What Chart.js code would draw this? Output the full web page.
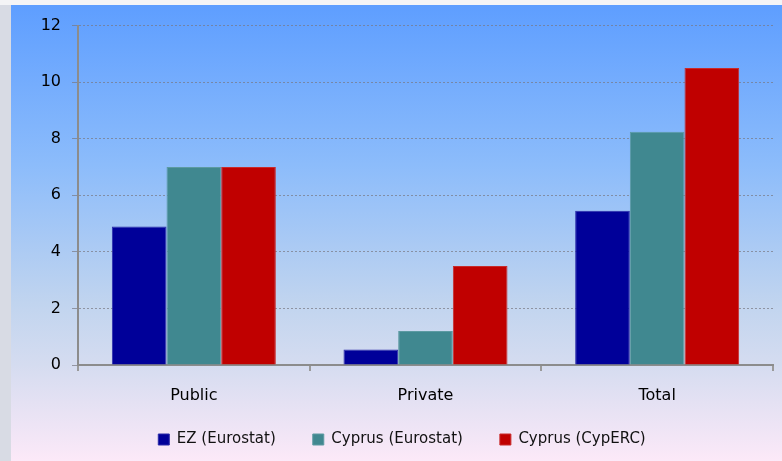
<!DOCTYPE html>
<html>
<head>
<meta charset="utf-8">
<script src="https://cdn.jsdelivr.net/npm/chart.js@4"></script>
<style>
  html, body { margin: 0; padding: 0; }
  body { width: 782px; height: 461px; background: #d8dbe4; position: relative; overflow: hidden; }
  #topstrip { position: absolute; left: 0; top: 0; width: 782px; height: 5px; background: #f4f4f6; }
  #panel {
    position: absolute; left: 11px; top: 5px; width: 771px; height: 456px;
    background: linear-gradient(to bottom, #5e9eff 0%, #8cbcfb 35%, #c0d4ef 65%, #d5dcf0 79%, #fce9f8 100%);
  }
  canvas { display: block; }
</style>
</head>
<body>
<div id="topstrip"></div>
<div id="panel"><canvas id="spend_chart" width="771" height="456"></canvas></div>
<script>
// categories and series
const categories = ["Public", "Private", "Total"];
const ez_eurostat = [4.9, 0.55, 5.45];
const cyprus_eurostat = [7.0, 1.2, 8.25];
const cyprus_cyperc = [7.0, 3.5, 10.5];
const y_ticks = [0, 2, 4, 6, 8, 10, 12];

const font_family = "'DejaVu Sans', Verdana, sans-serif";

// common to all three series
const base_bar = {
  borderWidth: 1,
  barPercentage: 1.0,
  categoryPercentage: 0.708
};

var data = {
  labels: categories,
  datasets: [{
    ...base_bar,
    label: "EZ (Eurostat)",
    backgroundColor: "#000099",
    borderColor: "#2a2aa8",
    data: ez_eurostat
  },
  {
    ...base_bar,
    label: "Cyprus (Eurostat)",
    backgroundColor: "#408890",
    borderColor: "#5c9aa2",
    data: cyprus_eurostat
  },
  {
    ...base_bar,
    label: "Cyprus (CypERC)",
    backgroundColor: "#c00000",
    borderColor: "#c82a2a",
    data: cyprus_cyperc
  }]
};

var options = {
  responsive: false,
  animation: false,
  // left padding only pushes the legend centre over, y axis width makes up for it
  layout: { padding: { top: 12, right: 9, left: 20, bottom: 4 } },
  plugins: {
    tooltip: { enabled: false },
    legend: {
      position: "bottom",
      labels: {
        boxWidth: 11,
        boxHeight: 11,
        padding: 37,
        color: "#111",
        font: { size: 15, family: font_family }
      }
    }
  },
  scales: {
    y: {
      min: 0,
      max: 12,
      afterBuildTicks: function(scale) {
        scale.ticks = y_ticks.map(v => ({ value: v }));
      },
      afterFit: function(scale) { scale.width = 47; },
      ticks: {
        padding: 11,
        color: "#000",
        font: { size: 16, family: font_family }
      },
      grid: {
        color: "rgba(120,120,130,0.7)",
        lineWidth: 1,
        tickLength: 6
      },
      border: { color: "#8c8c8c", width: 2, dash: [2, 2] }
    },
    x: {
      // thin axis box so the legend sits high; mirror keeps the labels from being clipped
      afterFit: function(scale) { scale.height = 30; },
      ticks: {
        mirror: true,
        padding: -40,
        color: "#000",
        font: { size: 16, family: font_family }
      },
      grid: {
        drawOnChartArea: false,
        drawTicks: true,
        tickLength: 6,
        color: "#9a9a9a",
        lineWidth: 2
      },
      border: { color: "#8c8c8c", width: 2 }
    }
  }
};

Chart.defaults.font.family = font_family;
var chart = new Chart(document.getElementById("spend_chart").getContext("2d"), {
  type: "bar",
  data: data,
  options: options
});
</script>
</body>
</html>
